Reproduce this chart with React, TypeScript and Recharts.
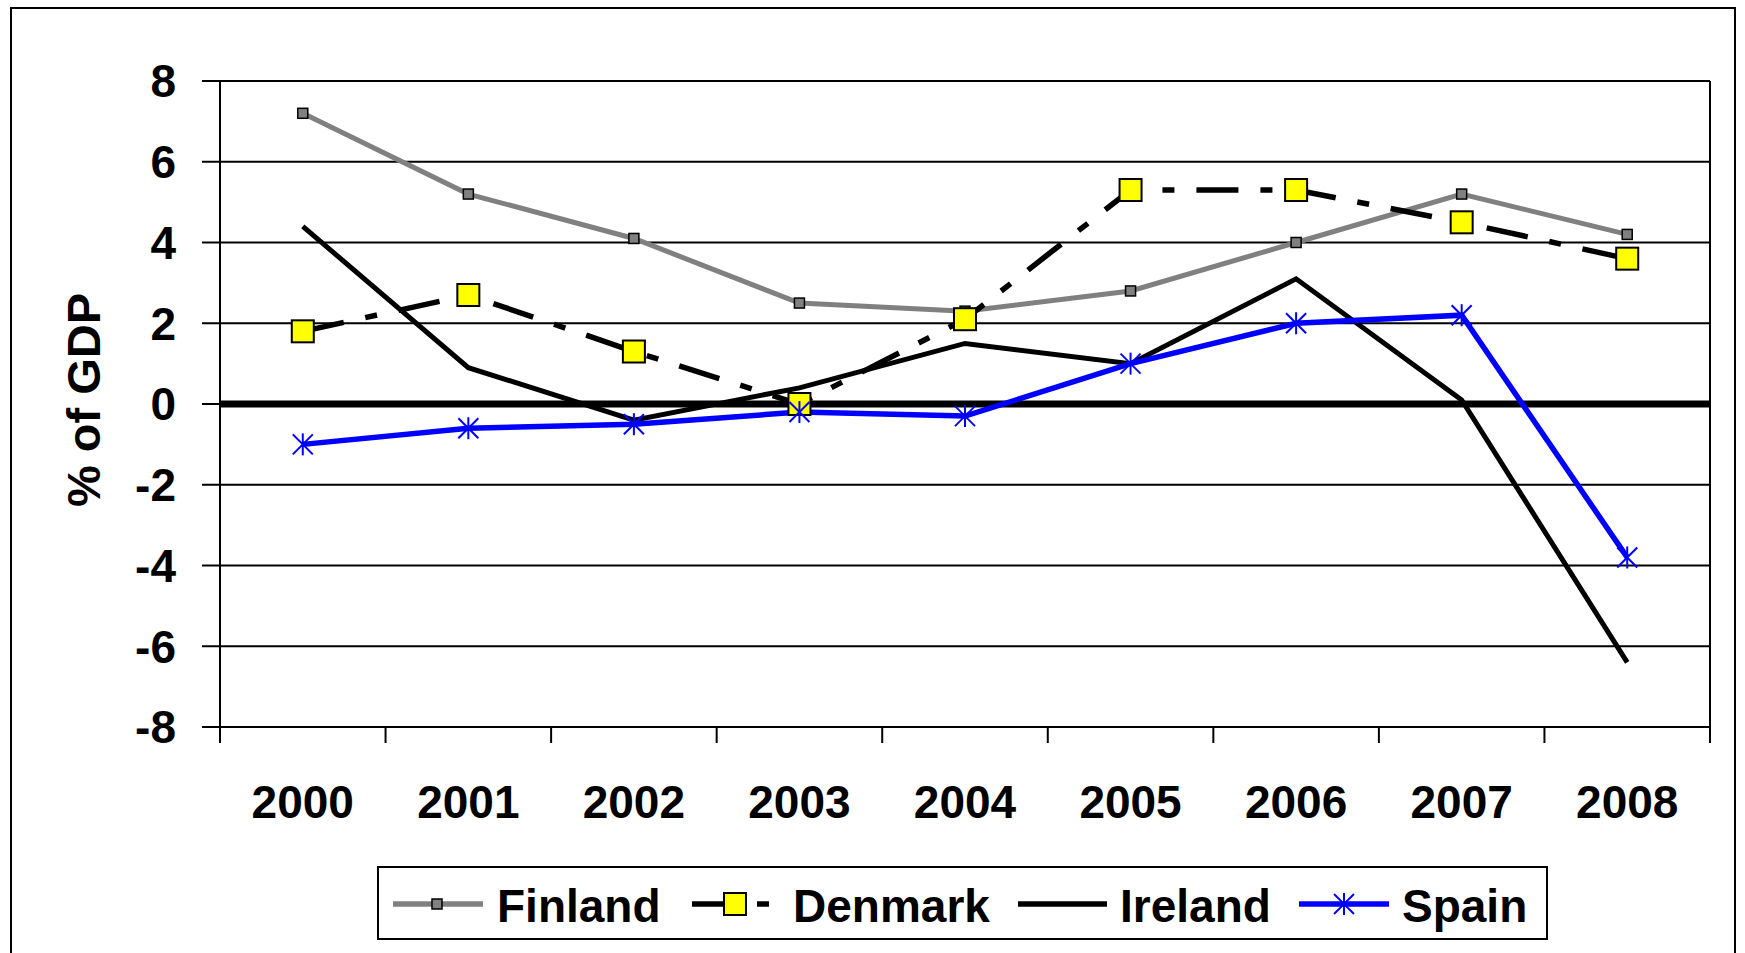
import React from 'react';
import { LineChart, Line, XAxis, YAxis, CartesianGrid, ReferenceLine, Legend, Label } from 'recharts';

const years = ['2000', '2001', '2002', '2003', '2004', '2005', '2006', '2007', '2008'];
const finland = [7.2, 5.2, 4.1, 2.5, 2.3, 2.8, 4.0, 5.2, 4.2];
const denmark = [1.8, 2.7, 1.3, 0.0, 2.1, 5.3, 5.3, 4.5, 3.6];
const ireland = [4.4, 0.9, -0.4, 0.4, 1.5, 1.0, 3.1, 0.1, -6.4];
const spain = [-1.0, -0.6, -0.5, -0.2, -0.3, 1.0, 2.0, 2.2, -3.8];
const yTicks = [-8, -6, -4, -2, 0, 2, 4, 6, 8];
const seriesNames = ['Finland', 'Denmark', 'Ireland', 'Spain'];
const yTitle = '% of GDP';

const data = years.map((y, i) => ({
  year: y,
  Finland: finland[i],
  Denmark: denmark[i],
  Ireland: ireland[i],
  Spain: spain[i],
}));

const FONT = '"Liberation Sans", Arial, sans-serif';
const GREY = '#808080';
const BLUE = '#0000FF';
const YELLOW = '#FFFF00';

const SquareSmall = (cx: number, cy: number, key?: any) => (
  <rect key={key} x={cx - 5} y={cy - 5} width={10} height={10} fill={GREY} stroke="#000" strokeWidth={1.5} />
);
const SquareBig = (cx: number, cy: number, key?: any) => (
  <rect key={key} x={cx - 11} y={cy - 11} width={22} height={22} fill={YELLOW} stroke="#000" strokeWidth={2} />
);
const Star = (cx: number, cy: number, key?: any) => (
  <g key={key} stroke={BLUE} strokeWidth={2}>
    <line x1={cx} y1={cy - 11} x2={cx} y2={cy + 11} />
    <line x1={cx - 10} y1={cy - 10} x2={cx + 10} y2={cy + 10} />
    <line x1={cx - 10} y1={cy + 10} x2={cx + 10} y2={cy - 10} />
  </g>
);

const XTick = (props: any) => {
  const { x, y, payload, index, visibleTicksCount, width } = props;
  const half =
    payload && typeof payload.offset === 'number' && payload.offset > 0
      ? payload.offset
      : width / (2 * visibleTicksCount);
  const last = index === visibleTicksCount - 1;
  return (
    <g>
      <line x1={x - half} y1={y - 16} x2={x - half} y2={y} stroke="#000" strokeWidth={2} />
      {last && <line x1={x + half} y1={y - 16} x2={x + half} y2={y} stroke="#000" strokeWidth={2} />}
      <text
        x={x}
        y={y + 75}
        textAnchor="middle"
        fontFamily={FONT}
        fontWeight="bold"
        fontSize={46}
        fill="#000"
      >
        {payload.value}
      </text>
    </g>
  );
};

const renderYLabel = (p: any) => {
  const vb = p.viewBox || { x: 0, y: 81, width: 220, height: 646 };
  const cx = vb.x + 83;
  const cy = vb.y + vb.height / 2 - 4;
  return (
    <text
      x={cx}
      y={cy}
      transform={`rotate(-90 ${cx} ${cy})`}
      textAnchor="middle"
      dominantBaseline="central"
      fontFamily={FONT}
      fontWeight="bold"
      fontSize={47}
      fill="#000"
    >
      {yTitle}
    </text>
  );
};

const LegendBox = () => {
  const ty = 56;
  const ly = 38;
  const textProps = { fontFamily: FONT, fontWeight: 'bold' as const, fontSize: 46, fill: '#000' };
  return (
    <svg width={1171} height={74} style={{ display: 'block' }}>
      <rect x={1} y={1} width={1169} height={72} fill="#fff" stroke="#000" strokeWidth={2} />
      <line x1={16} y1={ly} x2={106} y2={ly} stroke={GREY} strokeWidth={5.5} />
      {SquareSmall(60, ly)}
      <text x={120} y={ty} {...textProps}>{seriesNames[0]}</text>
      <line x1={315} y1={ly} x2={347} y2={ly} stroke="#000" strokeWidth={5.5} />
      {SquareBig(358, ly)}
      <line x1={380} y1={ly} x2={392} y2={ly} stroke="#000" strokeWidth={5.5} />
      <text x={416} y={ty} {...textProps}>{seriesNames[1]}</text>
      <line x1={641} y1={ly} x2={730} y2={ly} stroke="#000" strokeWidth={5.5} />
      <text x={743} y={ty} {...textProps}>{seriesNames[2]}</text>
      <line x1={922} y1={ly} x2={1012} y2={ly} stroke={BLUE} strokeWidth={5.5} />
      {Star(967, ly)}
      <text x={1025} y={ty} {...textProps}>{seriesNames[3]}</text>
    </svg>
  );
};

export default function App() {
  return (
    <div
      style={{
        position: 'absolute',
        left: 0,
        top: 0,
        width: 1745,
        height: 953,
        overflow: 'hidden',
        background: '#fff',
      }}
    >
      <div
        style={{
          position: 'absolute',
          left: 10,
          top: 7,
          width: 1726,
          height: 1000,
          boxSizing: 'border-box',
          border: '2px solid #000',
        }}
      />
      <div style={{ position: 'absolute', left: 0, top: 0 }}>
        <LineChart
          width={1745}
          height={953}
          data={data}
          margin={{ top: 81, right: 34, bottom: 126, left: 0 }}
        >
          <CartesianGrid horizontal vertical={false} stroke="#000" strokeWidth={2} />
          <XAxis
            dataKey="year"
            scale="band"
            height={100}
            axisLine={{ stroke: '#000', strokeWidth: 2 }}
            tickLine={false}
            tickSize={16}
            tickMargin={0}
            interval={0}
            tick={<XTick />}
          />
          <YAxis
            domain={[-8, 8]}
            ticks={yTicks}
            width={220}
            interval={0}
            allowDataOverflow
            axisLine={{ stroke: '#000', strokeWidth: 2 }}
            tickLine={{ stroke: '#000', strokeWidth: 2 }}
            tickSize={18}
            tickMargin={26}
            tick={{ fontFamily: FONT, fontWeight: 'bold', fontSize: 46, fill: '#000' }}
            label={<Label content={renderYLabel} />}
          />
          <YAxis
            yAxisId="r"
            orientation="right"
            domain={[-8, 8]}
            ticks={yTicks}
            width={1}
            tick={false}
            tickLine={false}
            axisLine={{ stroke: '#000', strokeWidth: 2 }}
          />
          <ReferenceLine y={0} stroke="#000" strokeWidth={7} />
          <Line
            dataKey="Finland"
            type="linear"
            stroke={GREY}
            strokeWidth={5}
            isAnimationActive={false}
            dot={(p: any) => SquareSmall(p.cx, p.cy, `f${p.index}`)}
            activeDot={false}
          />
          <Line
            dataKey="Denmark"
            type="linear"
            stroke="#000"
            strokeWidth={5.5}
            strokeDasharray="42 22 12 22"
            isAnimationActive={false}
            dot={(p: any) => SquareBig(p.cx, p.cy, `d${p.index}`)}
            activeDot={false}
          />
          <Line
            dataKey="Ireland"
            type="linear"
            stroke="#000"
            strokeWidth={5}
            isAnimationActive={false}
            dot={false}
            activeDot={false}
          />
          <Line
            dataKey="Spain"
            type="linear"
            stroke={BLUE}
            strokeWidth={5.5}
            isAnimationActive={false}
            dot={(p: any) => Star(p.cx, p.cy, `s${p.index}`)}
            activeDot={false}
          />
          <Legend
            layout="horizontal"
            verticalAlign="middle"
            align="center"
            wrapperStyle={{ left: 377, top: 866, width: 1171, height: 74 }}
            content={() => <LegendBox />}
          />
        </LineChart>
      </div>
    </div>
  );
}
